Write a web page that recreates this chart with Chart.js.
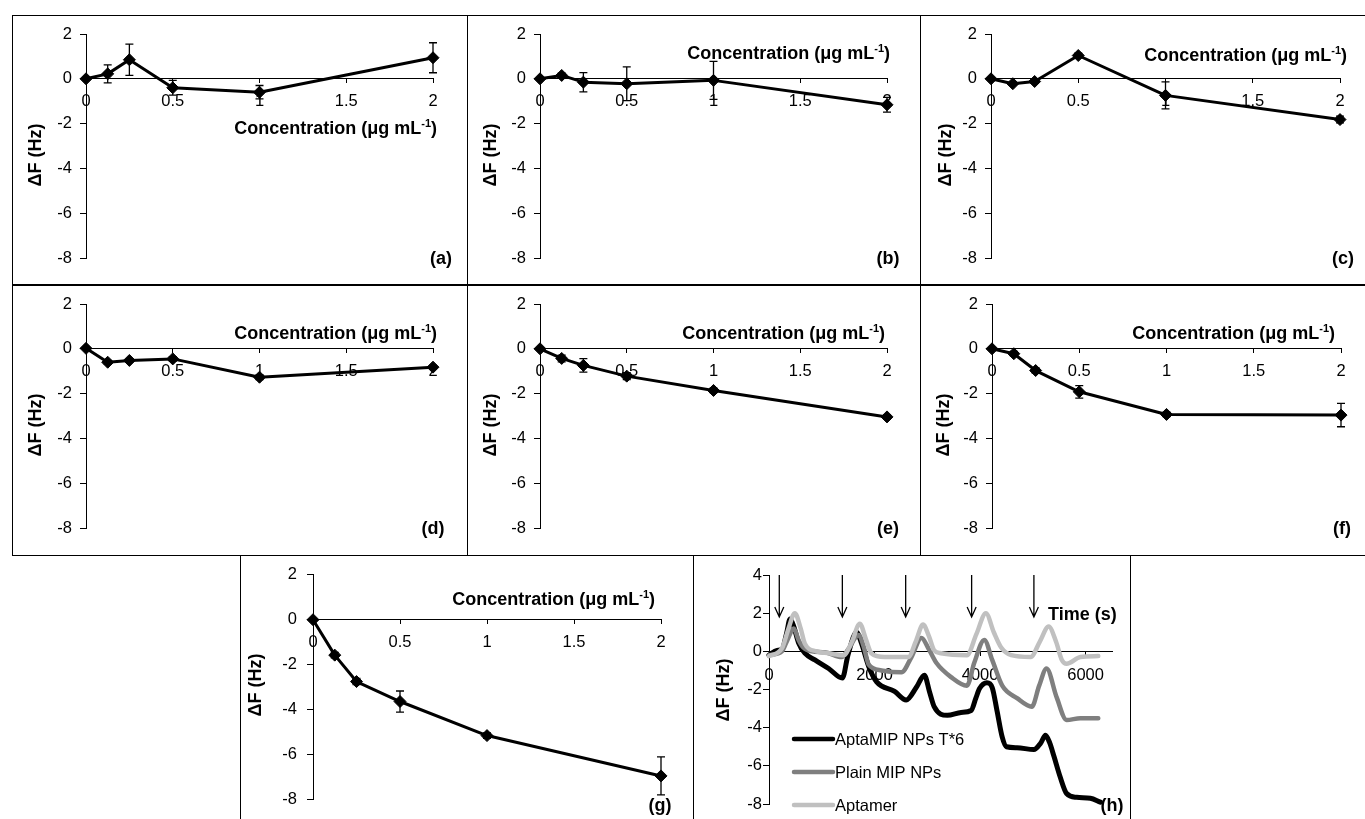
<!DOCTYPE html>
<html><head><meta charset="utf-8">
<script src="https://cdn.jsdelivr.net/npm/chart.js@4.4.1/dist/chart.umd.min.js"></script>
<style>
body{margin:0;background:#fff;}
#root{position:relative;width:1365px;height:819px;overflow:hidden;background:#fff;font-family:'Liberation Sans',Arial,sans-serif;color:#000}
canvas{position:absolute}
.ln{position:absolute;background:#000}
.t{position:absolute;white-space:nowrap;line-height:1;font-weight:bold;font-size:18px}
.sup{font-size:11px;position:relative;top:-7px}
</style></head><body><div id="root"></div>
<script>
// ---------- DATA ----------
const concX = [0, 0.125, 0.25, 0.5, 1, 2];
const concTicks = [0, 0.5, 1, 1.5, 2];
const dfTicks = [2, 0, -2, -4, -6, -8];
const dfA = [0, 0.22, 0.85, -0.4, -0.6, 0.94];   const errA = [0, 0.4, 0.7, 0.33, 0.3, 0.67];
const dfB = [0, 0.15, -0.15, -0.22, -0.07, -1.16]; const errB = [0, 0.1, 0.43, 0.75, 0.85, 0.33];
const dfC = [0, -0.22, -0.12, 1.04, -0.74, -1.82]; const errC = [0, 0.05, 0.08, 0.1, 0.6, 0.15];
const dfD = [0.02, -0.6, -0.52, -0.45, -1.27, -0.82]; const errD = [0, 0.08, 0.06, 0.1, 0.1, 0.08];
const dfE = [0, -0.43, -0.74, -1.22, -1.86, -3.04]; const errE = [0, 0.15, 0.3, 0.15, 0.1, 0.1];
const dfF = [0, -0.22, -0.97, -1.92, -2.93, -2.96]; const errF = [0, 0.1, 0.12, 0.28, 0.1, 0.52];
const dfG = [0, -1.58, -2.76, -3.65, -5.17, -6.97]; const errG = [0, 0.12, 0.14, 0.47, 0.12, 0.85];

const timeTicks = [0, 2000, 4000, 6000];
const hTicks = [4, 2, 0, -2, -4, -6, -8];
const hLabels = ['AptaMIP NPs T*6', 'Plain MIP NPs', 'Aptamer'];
const aptaT = [0,150,245,330,400,470,560,680,870,1130,1390,1500,1660,1755,1890,2040,2380,2600,2790,2945,3040,3130,3380,3640,3830,3920,3990,4130,4230,4320,4420,4500,4700,5020,5150,5240,5320,5400,5520,5640,5830,6090,6280];
const aptaV = [-0.2,0.05,0.1,0.9,1.7,1.3,0.45,-0.1,-0.45,-0.9,-1.4,-0.15,1.0,0.4,-0.8,-1.6,-2.1,-2.55,-1.9,-1.25,-2.1,-2.9,-3.35,-3.2,-3.1,-2.45,-1.95,-1.65,-1.9,-3.1,-4.5,-5.0,-5.05,-5.15,-4.8,-4.4,-4.8,-5.5,-6.6,-7.45,-7.65,-7.7,-7.9];
const plainT = [0,245,350,470,560,650,810,1060,1380,1500,1700,1800,1890,2130,2510,2700,2890,3030,3170,3450,3750,3890,4080,4230,4420,4700,4980,5120,5260,5450,5640,5900,6240];
const plainV = [-0.2,0,0.6,1.2,0.6,0.2,0,-0.05,-0.3,0.1,0.85,0.2,-0.7,-1.0,-1.1,-0.3,0.7,0.1,-0.6,-1.35,-1.8,-0.6,0.6,-0.45,-1.8,-2.45,-2.9,-1.8,-0.9,-2.4,-3.6,-3.5,-3.5];
const aptamerT = [0,245,370,490,600,680,900,1130,1415,1570,1720,1840,1940,2190,2640,2780,2920,3030,3130,3260,3750,3930,4110,4260,4400,4590,4960,5130,5300,5440,5550,5640,5900,6240];
const aptamerV = [-0.25,0.15,1.2,2.0,1.2,0.4,0,-0.1,-0.2,0.5,1.45,0.6,-0.1,-0.3,-0.3,0.5,1.4,0.8,0.05,-0.1,-0.2,0.9,2.0,1.0,0.2,-0.2,-0.3,0.5,1.3,0.5,-0.45,-0.65,-0.3,-0.25];
const arrowTimes = [195, 1390, 2590, 3840, 5020];

// ---------- SETUP ----------
const FONT = "'Liberation Sans', Arial, sans-serif";
Chart.defaults.font.family = FONT;
Chart.defaults.font.size = 16;
Chart.defaults.color = '#000';
const root = document.getElementById('root');

function line(x, y, w, h) {
  const d = document.createElement('div'); d.className = 'ln';
  Object.assign(d.style, {left: x + 'px', top: y + 'px', width: w + 'px', height: h + 'px'});
  root.appendChild(d);
}
function text(html, x, y, tf, extra) {
  const d = document.createElement('div'); d.className = 't'; d.innerHTML = html;
  Object.assign(d.style, {left: x + 'px', top: y + 'px', transform: tf}, extra || {});
  root.appendChild(d);
}

const errorBarPlugin = {
  id: 'errbars',
  afterDatasetsDraw(chart) {
    const ctx = chart.ctx, ys = chart.scales.y;
    chart.data.datasets.forEach((ds, di) => {
      if (!ds.errorBars) return;
      const meta = chart.getDatasetMeta(di);
      meta.data.forEach((pt, i) => {
        const e = ds.errorBars[i]; if (!e) return;
        const v = ds.data[i].y;
        const y1 = ys.getPixelForValue(v + e), y2 = ys.getPixelForValue(v - e);
        ctx.save(); ctx.strokeStyle = '#000'; ctx.lineWidth = 1.3;
        ctx.beginPath();
        ctx.moveTo(pt.x, y1); ctx.lineTo(pt.x, y2);
        ctx.moveTo(pt.x - 4, y1); ctx.lineTo(pt.x + 4, y1);
        ctx.moveTo(pt.x - 4, y2); ctx.lineTo(pt.x + 4, y2);
        ctx.stroke(); ctx.restore();
      });
    });
  }
};

function xScaleCfg(min, max, ticks, pad) {
  return {
    type: 'linear', position: {y: 0}, min, max,
    afterBuildTicks: s => { s.ticks = ticks.map(v => ({value: v})); },
    ticks: {callback: v => String(v), padding: pad, autoSkip: false, maxRotation: 0, minRotation: 0, font: {size: 16.5}, color: '#000'},
    grid: {display: true, drawOnChartArea: false, drawTicks: true, tickLength: 4, color: '#000', lineWidth: 1},
    border: {display: true, color: '#000', width: 1}
  };
}
function yScaleCfg(min, max, ticks, width, pad) {
  return {
    type: 'linear', position: 'left', min, max,
    afterBuildTicks: s => { s.ticks = ticks.map(v => ({value: v})); },
    afterFit: s => { s.width = width; },
    ticks: {callback: v => String(v), padding: pad, autoSkip: false, font: {size: 16.5}, color: '#000'},
    grid: {display: true, drawOnChartArea: false, drawTicks: true, tickLength: 6, color: '#000', lineWidth: 1},
    border: {display: true, color: '#000', width: 1}
  };
}

function makeCanvas(rect) {
  const c = document.createElement('canvas');
  c.width = rect.w; c.height = rect.h;
  Object.assign(c.style, {left: rect.x + 'px', top: rect.y + 'px', width: rect.w + 'px', height: rect.h + 'px'});
  root.appendChild(c);
  return c;
}

function concPanel(rect, area, vals, errs, ypad) {
  const c = makeCanvas(rect);
  new Chart(c, {
    type: 'scatter',
    data: {datasets: [{
      data: concX.map((x, i) => ({x, y: vals[i]})),
      showLine: true, borderColor: '#000', borderWidth: 3, tension: 0,
      borderJoinStyle: 'round',
      pointStyle: 'rectRot', pointRadius: 6, pointBackgroundColor: '#000', pointBorderColor: '#000', pointBorderWidth: 1,
      clip: false, errorBars: errs
    }]},
    options: {
      responsive: false, animation: false, events: [],
      layout: {padding: {left: 0, top: area.t - rect.y, right: rect.x + rect.w - area.r, bottom: rect.y + rect.h - area.b}},
      scales: {
        x: xScaleCfg(0, 2, concTicks, 9),
        y: yScaleCfg(-8, 2, dfTicks, area.l - rect.x, ypad)
      },
      plugins: {legend: {display: false}, tooltip: {enabled: false}}
    },
    plugins: [errorBarPlugin]
  });
}

// ---------- PANELS ----------
const panels = [
  {r: {x: 12, y: 15, w: 455, h: 270}, a: {l: 86, r: 433, t: 34, b: 258}, v: dfA, e: errA, p: 8},
  {r: {x: 467, y: 15, w: 453, h: 270}, a: {l: 540, r: 887, t: 34, b: 258}, v: dfB, e: errB, p: 8},
  {r: {x: 920, y: 15, w: 445, h: 270}, a: {l: 991, r: 1340, t: 34, b: 258}, v: dfC, e: errC, p: 8},
  {r: {x: 12, y: 285, w: 455, h: 270}, a: {l: 86, r: 433, t: 304, b: 528}, v: dfD, e: errD, p: 8},
  {r: {x: 467, y: 285, w: 453, h: 270}, a: {l: 540, r: 887, t: 304, b: 528}, v: dfE, e: errE, p: 8},
  {r: {x: 920, y: 285, w: 445, h: 270}, a: {l: 992, r: 1341, t: 304, b: 528}, v: dfF, e: errF, p: 8},
  {r: {x: 241, y: 555, w: 452, h: 264}, a: {l: 313, r: 661, t: 573, b: 799}, v: dfG, e: errG, p: 10}
];
panels.forEach(p => concPanel(p.r, p.a, p.v, p.e, p.p));

// Panel h
const hRect = {x: 693, y: 555, w: 437, h: 264};
const hArea = {l: 769, r: 1112, t: 575, b: 804};
const hColors = ['#000000', '#7f7f7f', '#c0c0c0'];
const hWidths = [5, 4.5, 4.5];
const hPlugin = {
  id: 'hextras',
  afterDraw(chart) {
    const ctx = chart.ctx, xs = chart.scales.x, ys = chart.scales.y, ca = chart.chartArea;
    ctx.save();
    ctx.strokeStyle = '#000'; ctx.lineWidth = 1.3;
    arrowTimes.forEach(t => {
      const x = xs.getPixelForValue(t), y1 = ys.getPixelForValue(4), y2 = ys.getPixelForValue(1.8);
      ctx.beginPath(); ctx.moveTo(x, y1); ctx.lineTo(x, y2);
      ctx.moveTo(x - 4.5, y2 - 10); ctx.lineTo(x, y2); ctx.lineTo(x + 4.5, y2 - 10);
      ctx.stroke();
    });
    const rows = [164, 197, 230];
    chart.data.datasets.forEach((ds, i) => {
      const y = ca.top + rows[i];
      ctx.strokeStyle = ds.borderColor; ctx.lineWidth = 4.5; ctx.lineCap = 'round';
      ctx.beginPath(); ctx.moveTo(ca.left + 25, y); ctx.lineTo(ca.left + 64, y); ctx.stroke();
      ctx.fillStyle = '#000'; ctx.font = '16.5px ' + FONT; ctx.textBaseline = 'middle'; ctx.textAlign = 'left';
      ctx.fillText(ds.label, ca.left + 66, y + 1);
    });
    ctx.restore();
  }
};
const hSeries = [[aptaT, aptaV], [plainT, plainV], [aptamerT, aptamerV]];
new Chart(makeCanvas(hRect), {
  type: 'scatter',
  data: {datasets: hSeries.map((s, i) => ({
    label: hLabels[i],
    data: s[0].map((t, j) => ({x: t, y: s[1][j]})),
    showLine: true, borderColor: hColors[i], borderWidth: hWidths[i], cubicInterpolationMode: 'monotone',
    borderJoinStyle: 'round', borderCapStyle: 'round', pointRadius: 0, clip: false,
    order: 2 - i
  }))},
  options: {
    responsive: false, animation: false, events: [],
    layout: {padding: {left: 0, top: hArea.t - hRect.y, right: hRect.x + hRect.w - hArea.r, bottom: hRect.y + hRect.h - hArea.b}},
    scales: {
      x: xScaleCfg(0, 6500, timeTicks, 10),
      y: yScaleCfg(-8, 4, hTicks, hArea.l - hRect.x, 1)
    },
    plugins: {legend: {display: false}, tooltip: {enabled: false}}
  },
  plugins: [hPlugin]
});

// ---------- FRAME LINES ----------
line(12, 14.5, 1353, 1.5);
line(12, 284, 1353, 1.5);
line(12, 554.5, 1353, 1.5);
line(11.5, 15, 1.5, 540);
line(466.5, 15, 1.5, 540);
line(919.5, 15, 1.5, 540);
line(239.5, 555, 1.5, 264);
line(692.5, 555, 1.5, 264);
line(1129.5, 555, 1.5, 264);

// ---------- TEXT ----------
const yTitlePos = [[35,155],[490,155],[945,155],[35,425],[490,425],[943,425],[255,685],[723,690]];
yTitlePos.forEach(p => text('ΔF (Hz)', p[0], p[1], 'translate(-50%,-50%) rotate(-90deg)'));
const concTitle = 'Concentration (μg mL<span class="sup">-1</span>)';
const xTitlePos = [[437,128],[890,53],[1347,55],[437,333],[885,333],[1335,333],[655,599]];
xTitlePos.forEach(p => text(concTitle, p[0], p[1], 'translate(-100%,-50%)'));
const panelLabels = ['(a)','(b)','(c)','(d)','(e)','(f)','(g)','(h)'];
const labelPos = [[441,258],[888,258],[1343,258],[433,528],[888,528],[1342,528],[660,805],[1112,805]];
panelLabels.forEach((l, i) => text(l, labelPos[i][0], labelPos[i][1], 'translate(-50%,-50%)'));
text('Time (s)', 1048, 614, 'translate(0,-50%)');
</script></body></html>
